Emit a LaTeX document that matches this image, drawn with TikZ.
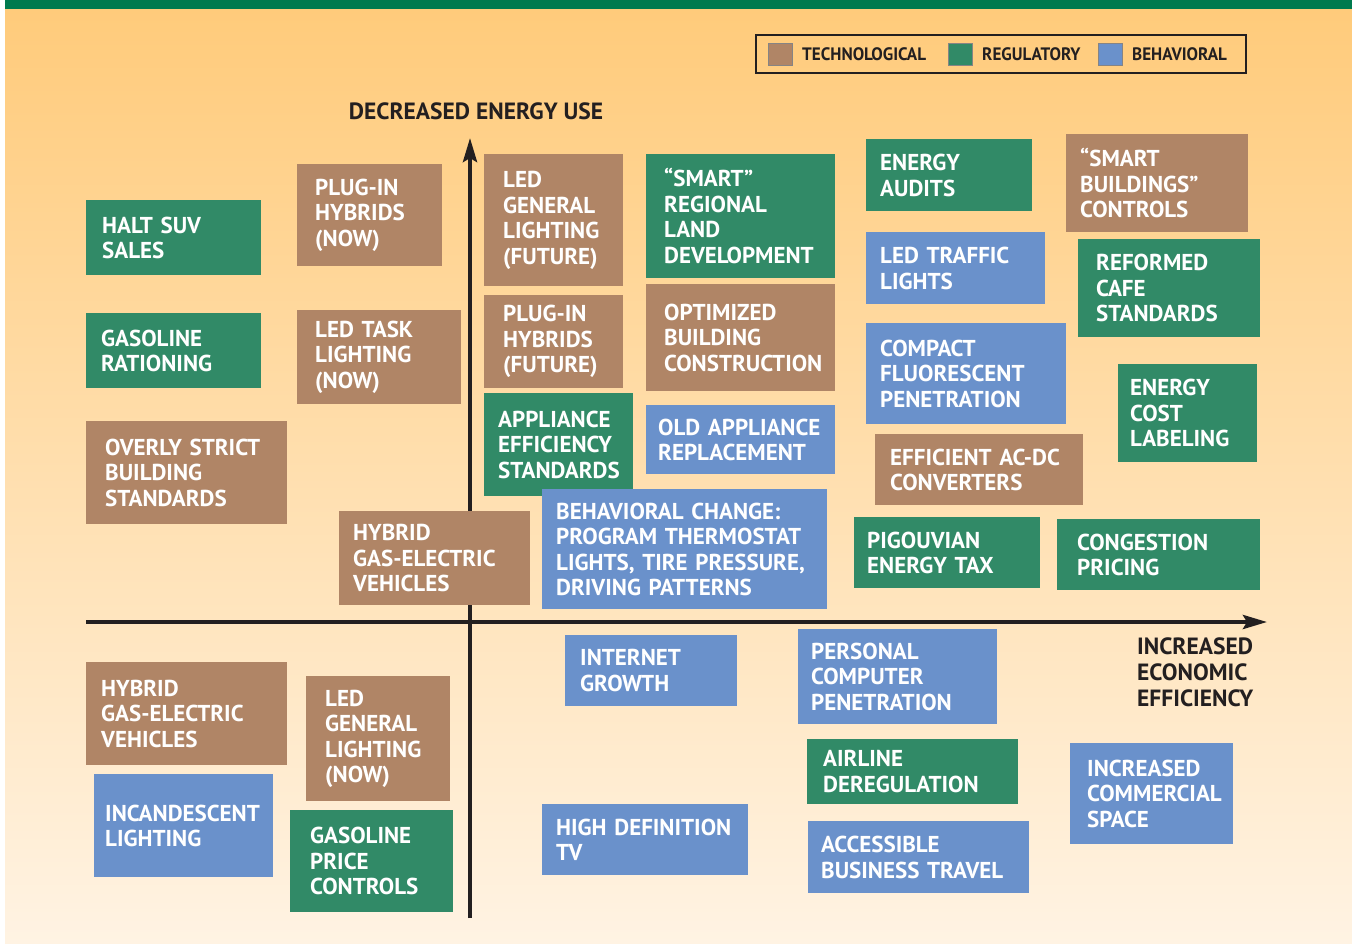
\documentclass[tikz,border=0pt]{standalone}
\usepackage{fontspec}
\setmainfont{PT Sans}
\newfontfamily\legendfont{PT Sans}[FakeStretch=0.95]
\usetikzlibrary{arrows.meta}

\definecolor{techbrown}{HTML}{B08566}
\definecolor{reggreen}{HTML}{318A67}
\definecolor{behblue}{HTML}{6A91CB}
\definecolor{topbar}{HTML}{007A4E}
\definecolor{bgtop}{HTML}{FFCB7B}
\definecolor{bgbottom}{HTML}{FFF3E3}
\definecolor{ink}{HTML}{231F20}

\tikzset{
	item/.style={anchor=north west, inner ysep=0pt, align=left, text=white,
		font=\bfseries\fontsize{23}{25.5}\selectfont},
	tech/.style={item, fill=techbrown},
	reg/.style={item, fill=reggreen},
	beh/.style={item, fill=behblue},
	axis/.style={draw=ink, line width=4pt, -{Stealth[length=24pt,width=14pt,inset=4pt]}},
	axislabel/.style={text=ink, inner sep=0pt, align=left,
		font=\bfseries\fontsize{23.5}{25.8}\selectfont},
	swatch/.style={draw=ink!55, line width=0.8pt},
	legendlabel/.style={text=ink, anchor=west, inner sep=0pt,
		font=\legendfont\bfseries\fontsize{18}{20}\selectfont}
}

\begin{document}
\begin{tikzpicture}[x=1pt, y=-1pt]
	\useasboundingbox (0,0) rectangle (1352,943);
	% background
	\shade[top color=bgtop, bottom color=bgbottom] (5,9) rectangle (1352,943);
	\fill[topbar] (5,0) rectangle (1352,9);

	% legend
	\draw[ink, line width=1.5pt] (756,35) rectangle (1246,73);
	\filldraw[swatch, fill=techbrown] (768,43) rectangle (792,65);
	\node (techlbl) [legendlabel] at (802,54) {TECHNOLOGICAL};
	\filldraw[swatch, fill=reggreen] (948,43) rectangle (972,65);
	\node (reglbl) [legendlabel] at (982,54) {REGULATORY};
	\filldraw[swatch, fill=behblue] (1098,43) rectangle (1122,65);
	\node (behlbl) [legendlabel] at (1132,54) {BEHAVIORAL};

	% axes
	\coordinate (ybot) at (470,918);
	\coordinate (ytop) at (470,138);
	\coordinate (xleft) at (86,622);
	\coordinate (xright) at (1267,622);
	\draw[axis] (ybot) -- (ytop);
	\draw[axis] (xleft) -- (xright);
	\node (energyuse) [axislabel] at (476,111) {DECREASED ENERGY USE};
	\node (efficiency) [axislabel, anchor=north west] at (1137,638) {INCREASED\\ECONOMIC\\EFFICIENCY};

	% upper left
	\node (haltsuv) [reg, minimum height=75, inner xsep=16, text width=143] at (86,200) {HALT SUV\\SALES};
	\node (plugnow) [tech, minimum height=102, inner xsep=18, text width=109] at (297,164) {PLUG-IN\\HYBRIDS\\(NOW)};
	\node (gasration) [reg, minimum height=75, inner xsep=15, text width=145] at (86,313) {GASOLINE\\RATIONING};
	\node (ledtask) [tech, minimum height=94, inner xsep=18, text width=128] at (297,310) {LED TASK\\LIGHTING\\(NOW)};
	\node (overly) [tech, minimum height=103, inner xsep=19, text width=163] at (86,421) {OVERLY STRICT\\BUILDING\\STANDARDS};
	\node (hybridup) [tech, minimum height=94, inner xsep=14, text width=163] at (339,511) {HYBRID\\GAS-ELECTRIC\\VEHICLES};

	% upper right
	\node (ledfuture) [tech, minimum height=132, inner xsep=19, text width=101] at (484,154) {LED\\GENERAL\\LIGHTING\\(FUTURE)};
	\node (plugfuture) [tech, minimum height=93, inner xsep=19, text width=101] at (484,295) {PLUG-IN\\HYBRIDS\\(FUTURE)};
	\node (appliance) [reg, minimum height=103, inner xsep=14, text width=121] at (484,393) {APPLIANCE\\EFFICIENCY\\STANDARDS};
	\node (smartland) [reg, minimum height=124, inner xsep=18, text width=153] at (646,154) {“SMART”\\REGIONAL\\LAND\\DEVELOPMENT};
	\node (optimized) [tech, minimum height=107, inner xsep=18, text width=153] at (646,284) {OPTIMIZED\\BUILDING\\CONSTRUCTION};
	\node (oldappl) [beh, minimum height=69, inner xsep=12, text width=165] at (646,405) {OLD APPLIANCE\\REPLACEMENT};
	\node (behavioral) [beh, minimum height=120, inner xsep=14, text width=257] at (542,489) {BEHAVIORAL CHANGE:\\PROGRAM THERMOSTAT\\LIGHTS, TIRE PRESSURE,\\DRIVING PATTERNS};
	\node (audits) [reg, minimum height=72, inner xsep=14, text width=138] at (866,139) {ENERGY\\AUDITS};
	\node (traffic) [beh, minimum height=72, inner xsep=14, text width=151] at (866,232) {LED TRAFFIC\\LIGHTS};
	\node (compact) [beh, minimum height=101, inner xsep=14, text width=172] at (866,323) {COMPACT\\FLUORESCENT\\PENETRATION};
	\node (acdc) [tech, minimum height=71, inner xsep=15, text width=178] at (875,434) {EFFICIENT AC-DC\\CONVERTERS};
	\node (pigou) [reg, minimum height=71, inner xsep=13, text width=160] at (854,517) {PIGOUVIAN\\ENERGY TAX};
	\node (smartbld) [tech, minimum height=98, inner xsep=14, text width=154] at (1066,134) {“SMART\\BUILDINGS”\\CONTROLS};
	\node (cafe) [reg, minimum height=98, inner xsep=18, text width=146] at (1078,239) {REFORMED\\CAFE\\STANDARDS};
	\node (costlabel) [reg, minimum height=98, inner xsep=12, text width=115] at (1118,364) {ENERGY\\COST\\LABELING};
	\node (congestion) [reg, minimum height=71, inner xsep=20, text width=163] at (1057,519) {CONGESTION\\PRICING};

	% lower left
	\node (hybriddown) [tech, minimum height=103, inner xsep=15, text width=171] at (86,662) {HYBRID\\GAS-ELECTRIC\\VEHICLES};
	\node (incand) [beh, minimum height=103, inner xsep=11, text width=157] at (94,774) {INCANDESCENT\\LIGHTING};
	\node (lednow) [tech, minimum height=125, inner xsep=19, text width=106] at (306,676) {LED\\GENERAL\\LIGHTING\\(NOW)};
	\node (gasprice) [reg, minimum height=102, inner xsep=20, text width=123] at (290,810) {GASOLINE\\PRICE\\CONTROLS};

	% lower right
	\node (internet) [beh, minimum height=71, inner xsep=15, text width=142] at (565,635) {INTERNET\\GROWTH};
	\node (hdtv) [beh, minimum height=71, inner xsep=14, text width=178] at (542,804) {HIGH DEFINITION\\TV};
	\node (personal) [beh, minimum height=95, inner xsep=13, text width=173] at (798,629) {PERSONAL\\COMPUTER\\PENETRATION};
	\node (airline) [reg, minimum height=65, inner xsep=16, text width=179] at (807,739) {AIRLINE\\DEREGULATION};
	\node (accessible) [beh, minimum height=72, inner xsep=13, text width=195] at (808,821) {ACCESSIBLE\\BUSINESS TRAVEL};
	\node (commercial) [beh, minimum height=101, inner xsep=17, text width=129] at (1070,743) {INCREASED\\COMMERCIAL\\SPACE};
\end{tikzpicture}
\end{document}
